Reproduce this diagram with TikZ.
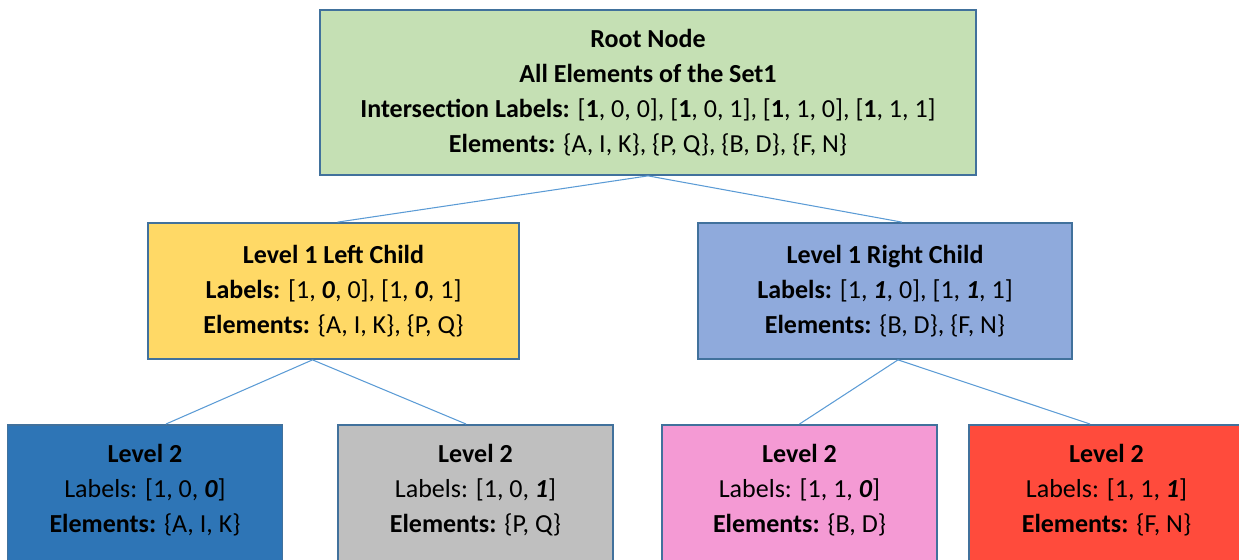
\documentclass[tikz,border=0pt]{standalone}
\usepackage{fontspec}
\setmainfont{Carlito}
\definecolor{rootgreen}{HTML}{C5E0B4}
\definecolor{leftyellow}{HTML}{FFD966}
\definecolor{rightblue}{HTML}{8FAADC}
\definecolor{leafblue}{HTML}{2E75B6}
\definecolor{leafgray}{HTML}{BFBFBF}
\definecolor{leafpink}{HTML}{F49AD4}
\definecolor{leafred}{HTML}{FF4B3C}
\definecolor{edgeblue}{HTML}{41719C}
\definecolor{linkblue}{HTML}{5B9BD5}
\newcommand{\bi}[1]{\textbf{\textit{#1}}}

\begin{document}
\begin{tikzpicture}[x=0.02cm, y=-0.02cm,
	box/.style={draw=edgeblue, line width=1pt, align=center, inner sep=0pt,
		font=\fontsize{14.8}{20}\selectfont},
	leaf/.style={box, anchor=north, minimum width=5.5cm, inner ysep=0.38cm, text depth=3cm},
	link/.style={draw=linkblue, line width=0.6pt}]
		\useasboundingbox (0,0) rectangle (1239,559);
		\clip (0,0) rectangle (1239,559);
		
		% root and first level
		\node[box, fill=rootgreen, minimum width=13.12cm, minimum height=3.3cm] (root) at (648,92.5)
			{\textbf{Root Node}\\ \textbf{All Elements of the Set1}\\
			 \textbf{Intersection Labels:} [\textbf{1}, 0, 0], [\textbf{1}, 0, 1], [\textbf{1}, 1, 0], [\textbf{1}, 1, 1]\\
			 \textbf{Elements:} \{A, I, K\}, \{P, Q\}, \{B, D\}, \{F, N\}};
		\node[box, fill=leftyellow, minimum width=7.42cm, minimum height=2.72cm] (left) at (333.5,291)
			{\textbf{Level 1 Left Child}\\ \textbf{Labels:} [1, \bi{0}, 0], [1, \bi{0}, 1]\\
			 \textbf{Elements:} \{A, I, K\}, \{P, Q\}};
		\node[box, fill=rightblue, minimum width=7.48cm, minimum height=2.72cm] (right) at (885,291)
			{\textbf{Level 1 Right Child}\\ \textbf{Labels:} [1, \bi{1}, 0], [1, \bi{1}, 1]\\
			 \textbf{Elements:} \{B, D\}, \{F, N\}};
		
		% second level
		\foreach \x/\c/\n/\lab/\el in {145/leafblue/leafa/{Labels: [1, 0, \bi{0}]}/{\{A, I, K\}},
				475.5/leafgray/leafb/{Labels: [1, 0, \bi{1}]}/{\{P, Q\}},
				799.5/leafpink/leafc/{Labels: [1, 1, \bi{0}]}/{\{B, D\}},
				1106.5/leafred/leafd/{Labels: [1, 1, \bi{1}]}/{\{F, N\}}} {
			\node[leaf, fill=\c] (\n) at (\x,424) {\textbf{Level 2}\\ \lab\\ \textbf{Elements:} \el};
		}
		
		\draw[link] (root.south) -- ([xshift=0.08cm]left.north);
		\draw[link] (root.south) -- ([xshift=0.34cm]right.north);
		\draw[link] ([xshift=-0.42cm]left.south) -- ([xshift=0.42cm]leafa.north);
		\draw[link] ([xshift=-0.42cm]left.south) -- ([xshift=-0.19cm]leafb.north);
		\draw[link] ([xshift=0.26cm]right.south) -- (leafc.north);
		\draw[link] ([xshift=0.26cm]right.south) -- ([xshift=-0.33cm]leafd.north);
	\end{tikzpicture}
\end{document}
